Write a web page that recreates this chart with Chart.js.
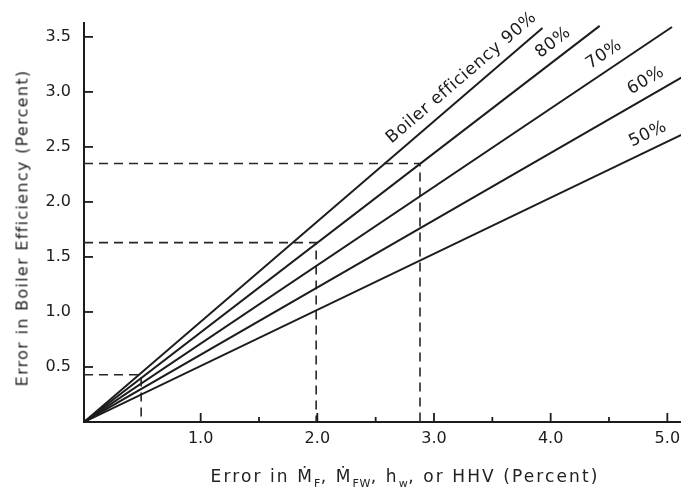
<!DOCTYPE html>
<html>
<head>
<meta charset="utf-8">
<script src="https://cdn.jsdelivr.net/npm/chart.js@4"></script>
<style>
  html, body { margin: 0; padding: 0; background: #fff; width: 681px; height: 492px; overflow: hidden; }
  #wrap { position: absolute; left: 0; top: 0; width: 700px; height: 492px; }
  .axtitle { position: absolute; font: 17px "DejaVu Sans", sans-serif; color: #222; white-space: nowrap; }
  #xtitle { left: 405px; top: 478px; transform: translate(-50%, -50%); letter-spacing: 2.1px; }
  #ytitle { left: 22px; top: 228px; transform: translate(-50%, -50%) rotate(-90deg); font-size: 16px; letter-spacing: 1.3px; }
  #xtitle sub { font-size: 11px; letter-spacing: 0.5px; }
</style>
</head>
<body>
<div id="wrap"><canvas id="effChart" width="700" height="492"></canvas></div>
<div class="axtitle" id="ytitle">Error in Boiler Efficiency (Percent)</div>
<div class="axtitle" id="xtitle">Error in Ṁ<sub>F</sub>, Ṁ<sub>FW</sub>, h<sub>w</sub>, or HHV (Percent)</div>
<script>
// boiler efficiency curves
var efficiencies = ['Boiler efficiency 90%', '80%', '70%', '60%', '50%'];
var lineEndX = [3.93, 4.42, 5.04, 5.12, 5.12];
var lineEndY = [3.58, 3.60, 3.59, 3.13, 2.61];
var labelAtX = [3.32, 4.10, 4.53, 4.88, 4.89];

// dashed example read-offs
var dashX = [0.49, 1.99, 2.88];
var dashY = [0.43, 1.63, 2.35];

// ticks
var yTicks = [0.5, 1.0, 1.5, 2.0, 2.5, 3.0, 3.5];
var xMajorTicks = [1.0, 2.0, 3.0, 4.0, 5.0];
var xMinorTicks = [1.5, 2.5, 3.5, 4.5];

var ink = '#1c1c1c';
var datasets = [];

for (var i = 0; i < efficiencies.length; i++) {
   datasets.push({
      label: efficiencies[i],
      data: [{x: 0, y: 0}, {x: lineEndX[i], y: lineEndY[i]}],
      borderColor: ink,
      borderWidth: 2,
      pointRadius: 0,
      fill: false,
      tension: 0
   });
}

for (var j = 0; j < dashX.length; j++) {
   datasets.push({
      label: 'dash' + j,
      data: [{x: 0, y: dashY[j]}, {x: dashX[j], y: dashY[j]}, {x: dashX[j], y: 0}],
      borderColor: '#262626',
      borderWidth: 1.6,
      borderDash: [9, 6],
      pointRadius: 0,
      fill: false,
      tension: 0
   });
}

// inward tick marks and labels along the lines
var extras = {
   id: 'extras',
   afterDatasetsDraw: function(chart) {
      var ctx = chart.ctx;
      var xs = chart.scales.x, ys = chart.scales.y;
      var x0 = xs.getPixelForValue(0), y0 = ys.getPixelForValue(0);
      ctx.save();
      ctx.strokeStyle = ink;
      ctx.lineWidth = 1.8;
      yTicks.forEach(function(v) {
         var p = ys.getPixelForValue(v);
         ctx.beginPath(); ctx.moveTo(x0, p); ctx.lineTo(x0 + 9, p); ctx.stroke();
      });
      xMajorTicks.forEach(function(v) {
         var p = xs.getPixelForValue(v);
         ctx.beginPath(); ctx.moveTo(p, y0); ctx.lineTo(p, y0 - 9); ctx.stroke();
      });
      xMinorTicks.forEach(function(v) {
         var p = xs.getPixelForValue(v);
         ctx.beginPath(); ctx.moveTo(p, y0); ctx.lineTo(p, y0 - 5); ctx.stroke();
      });

      ctx.fillStyle = ink;
      ctx.font = '17px "DejaVu Sans", sans-serif';
      ctx.letterSpacing = '0.6px';
      ctx.textAlign = 'center';
      ctx.textBaseline = 'middle';
      for (var k = 0; k < efficiencies.length; k++) {
         var slope = lineEndY[k] / lineEndX[k];
         var px1 = xs.getPixelForValue(lineEndX[k]), py1 = ys.getPixelForValue(lineEndY[k]);
         var ang = Math.atan2(py1 - y0, px1 - x0);
         var ax = xs.getPixelForValue(labelAtX[k]);
         var ay = ys.getPixelForValue(labelAtX[k] * slope);
         var off = 15;
         ctx.save();
         ctx.translate(ax + Math.sin(ang) * off, ay - Math.cos(ang) * off);
         ctx.rotate(ang);
         ctx.fillText(efficiencies[k], 0, 0);
         ctx.restore();
      }
      ctx.restore();
   }
};

var effChart = new Chart(document.getElementById('effChart').getContext('2d'), {
   type: 'line',
   data: { datasets: datasets },
   options: {
      responsive: false,
      animation: false,
      layout: { padding: { top: 15, right: 0, left: 0, bottom: 0 } },
      plugins: {
         legend: { display: false },
         tooltip: { enabled: false }
      },
      scales: {
         x: {
            type: 'linear',
            min: 0,
            max: 5.28,
            afterFit: function(scale) { scale.height = 70; },
            afterBuildTicks: function(scale) {
               scale.ticks = xMajorTicks.map(function(v) { return {value: v}; });
            },
            grid: { drawOnChartArea: false, drawTicks: false },
            border: { display: true, color: ink, width: 2 },
            ticks: {
               padding: 7,
               maxRotation: 0,
               color: ink,
               font: { family: 'DejaVu Sans', size: 16 },
               callback: function(v) { return v.toFixed(1); }
            }
         },
         y: {
            type: 'linear',
            min: 0,
            max: 3.63,
            afterFit: function(scale) { scale.width = 84; },
            afterBuildTicks: function(scale) {
               scale.ticks = yTicks.map(function(v) { return {value: v}; });
            },
            grid: { drawOnChartArea: false, drawTicks: false },
            border: { display: true, color: ink, width: 2 },
            ticks: {
               padding: 13,
               color: ink,
               font: { family: 'DejaVu Sans', size: 16 },
               callback: function(v) { return v.toFixed(1); }
            }
         }
      }
   },
   plugins: [extras]
});
</script>
</body>
</html>
